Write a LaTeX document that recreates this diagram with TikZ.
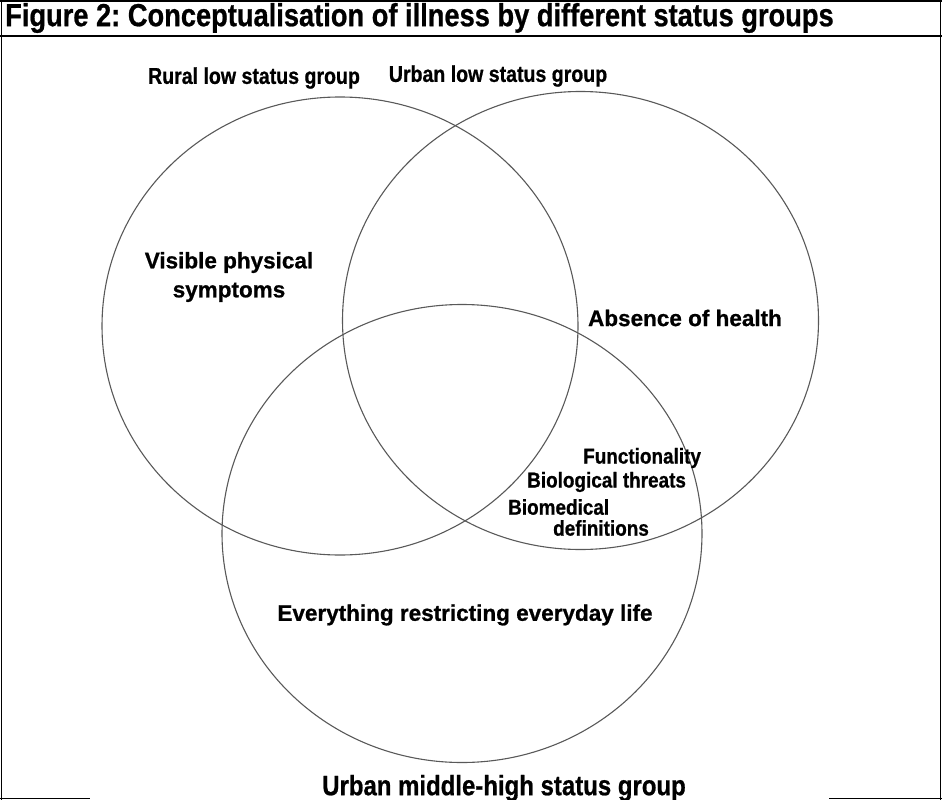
\documentclass[tikz,border=0pt]{standalone}
\usepackage{fontspec}
\setmainfont{Liberation Sans}[BoldFeatures={FakeBold=0.8}]
\usetikzlibrary{shapes.geometric}
\frenchspacing
\tikzset{
  frame/.style={line width=1.6pt, black},
  venn/.style={ellipse, draw=black!65, line width=1.1pt, inner sep=0pt, minimum width=476pt, minimum height=458pt},
  grp/.style={font=\bfseries\fontsize{20.8}{24}\selectfont, inner sep=0pt},
  inlab/.style={font=\bfseries\fontsize{22.5}{29}\selectfont, inner sep=0pt, align=center},
  small/.style={font=\bfseries\fontsize{21.5}{24}\selectfont, inner sep=0pt, anchor=west},
}
\newcommand{\tight}[1]{\scalebox{0.88}[1]{#1}}
\newcommand{\tall}[1]{\scalebox{0.94}[1.1]{#1}}
\begin{document}
\begin{tikzpicture}[x=1pt,y=-1pt]
\useasboundingbox (0,0) rectangle (942,800);
% frame
\draw[frame] (0,0.8) -- (942,0.8);
\draw[frame] (0,36) -- (942,36);
\draw[frame] (1.5,0) -- (1.5,800);
\draw[frame] (940.5,0) -- (940.5,800);
\draw[frame] (0,798.5) -- (90,798.5);
\draw[frame] (829,798.5) -- (942,798.5);
% title
\node[anchor=west, inner sep=0pt, font=\bfseries\fontsize{29}{32}\selectfont] (title) at (5,18) {\tall{Figure 2: Conceptualisation of illness by different status groups}};
% circles
\node[venn] (rural) at (340,326) {};
\node[venn] (urban) at (580.5,320.5) {};
\node[venn, minimum width=480pt] (middle) at (462,533.5) {};
% group labels
\node[grp] (lrural) at (254,78) {\tall{Rural low status group}};
\node[grp] (lurban) at (498,76) {\tall{Urban low status group}};
\node[grp, font=\bfseries\fontsize{25.5}{27}\selectfont] (lmiddle) at (504,788) {\tall{Urban middle-high status group}};
% inner labels
\node[inlab] (vis) at (229,277) {Visible physical\\symptoms};
\node[inlab] (abs) at (685,318) {Absence of health};
\node[inlab] (every) at (465,615) {Everything restricting everyday life};
\node[small] (func) at (583,458) {\tight{Functionality}};
\node[small] (bio) at (527,482) {\tight{Biological threats}};
\node[small] (biomed) at (508,507) {\tight{Biomedical}};
\node[small] (defs) at (553,528) {\tight{definitions}};
\end{tikzpicture}
\end{document}
